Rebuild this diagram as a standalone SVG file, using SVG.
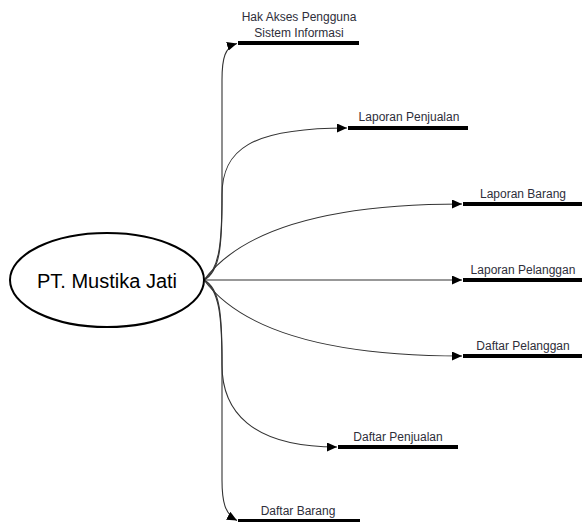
<svg xmlns="http://www.w3.org/2000/svg" width="582" height="522" viewBox="0 0 582 522">
<style>
.lbl{font-family:"Liberation Sans",Arial,sans-serif;font-size:12px;fill:#2e2e3a;text-anchor:middle}
.store{stroke:#000;stroke-width:4;fill:none}
.conn{stroke:#333;stroke-width:1.1;fill:none;marker-end:url(#arr)}
</style>
<defs>
<marker id="arr" markerUnits="userSpaceOnUse" markerWidth="11" markerHeight="10" refX="10" refY="4.5" orient="auto" viewBox="0 0 11 10">
<path d="M0,0 L10,4.5 L0,9 z" fill="#000"/>
</marker>
</defs>
<rect width="582" height="522" fill="#fff"/>
<g id="connectors">
<path class="conn" d="M204,280 C220,272 222,245 222,200 L222,80 C222,58 225,47 237,43.5"/>
<path class="conn" d="M204,280 C219,270 222,245 222,195 C222,150 250,128 347,128"/>
<path class="conn" d="M204,280 C240,232 320,204 462,204"/>
<path class="conn" d="M204,280 L462,280"/>
<path class="conn" d="M204,280 C240,328 320,356 462,356"/>
<path class="conn" d="M204,280 C219,290 222,315 222,365 C222,410 250,447 337,447"/>
<path class="conn" d="M204,280 C220,288 222,315 222,360 L222,480 C222,502 225,514 237,520.5"/>
</g>
<g id="pt-mustika-jati">
<ellipse cx="107" cy="280" rx="97" ry="47" fill="#fff" stroke="#000" stroke-width="2"/>
<text x="107" y="288" style="font-family:'Liberation Sans',Arial,sans-serif;font-size:20px;fill:#000;text-anchor:middle">PT. Mustika Jati</text>
</g>
<g id="hak-akses">
<line class="store" x1="238" y1="43" x2="359" y2="43"/>
<text class="lbl" x="299" y="21">Hak Akses Pengguna</text>
<text class="lbl" x="299" y="37">Sistem Informasi</text>
</g>
<g id="laporan-penjualan">
<line class="store" x1="348" y1="128" x2="468" y2="128"/>
<text class="lbl" x="409" y="121">Laporan Penjualan</text>
</g>
<g id="laporan-barang">
<line class="store" x1="463" y1="204" x2="582" y2="204"/>
<text class="lbl" x="523" y="198">Laporan Barang</text>
</g>
<g id="laporan-pelanggan">
<line class="store" x1="463" y1="280" x2="582" y2="280"/>
<text class="lbl" x="523" y="274">Laporan Pelanggan</text>
</g>
<g id="daftar-pelanggan">
<line class="store" x1="463" y1="356" x2="582" y2="356"/>
<text class="lbl" x="523" y="350">Daftar Pelanggan</text>
</g>
<g id="daftar-penjualan">
<line class="store" x1="338" y1="447" x2="458" y2="447"/>
<text class="lbl" x="398" y="441">Daftar Penjualan</text>
</g>
<g id="daftar-barang">
<line class="store" x1="238" y1="521" x2="360" y2="521"/>
<text class="lbl" x="298" y="515">Daftar Barang</text>
</g>
</svg>
